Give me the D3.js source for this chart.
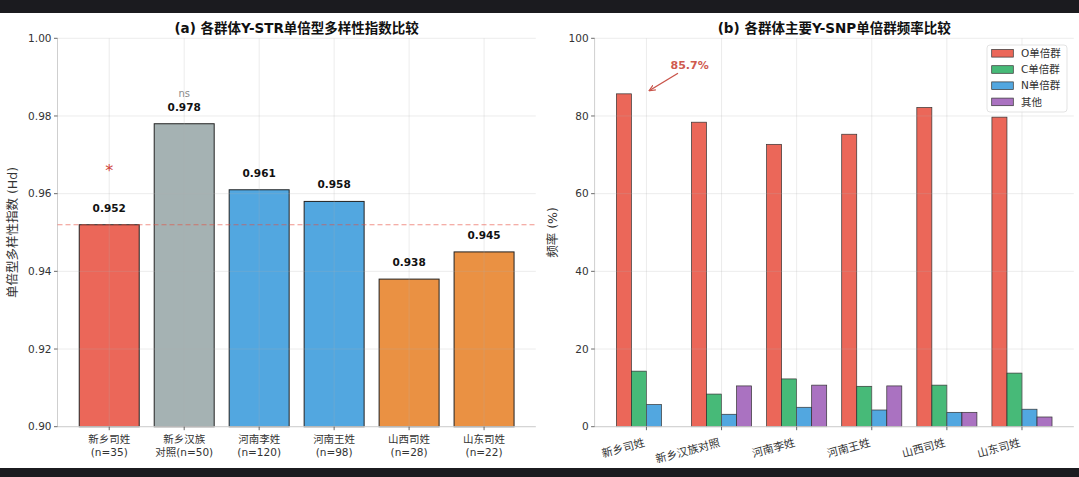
<!DOCTYPE html>
<html><head><meta charset="utf-8">
<script src="https://cdn.jsdelivr.net/npm/d3@7"></script>
<style>
html,body{margin:0;padding:0;background:#fff;}
svg{display:block;font-family:"DejaVu Sans","Noto Sans CJK SC",sans-serif;}
</style></head><body>
<svg id="c" width="1079" height="477"></svg>
<script>
// ---- data ----
const groupsA = ["新乡司姓","新乡汉族","河南李姓","河南王姓","山西司姓","山东司姓"];
const groupsA2 = ["(n=35)","对照(n=50)","(n=120)","(n=98)","(n=28)","(n=22)"];
const hdValues = [0.952,0.978,0.961,0.958,0.938,0.945];
const hdColors = ["#e74c3c","#95a5a6","#3498db","#3498db","#e67e22","#e67e22"];
const hdTicks = [0.90,0.92,0.94,0.96,0.98,1.00];
const refLine = 0.952;

const groupsB = ["新乡司姓","新乡汉族对照","河南李姓","河南王姓","山西司姓","山东司姓"];
const seriesNames = ["O单倍群","C单倍群","N单倍群","其他"];
const seriesColors = ["#e74c3c","#27ae60","#3498db","#9b59b6"];
const hapO = [85.7,78.4,72.7,75.3,82.2,79.7];
const hapC = [14.3,8.4,12.3,10.4,10.7,13.8];
const hapN = [5.7,3.2,5.0,4.3,3.7,4.5];
const hapOther = [0,10.5,10.7,10.5,3.7,2.5];
const freqTicks = [0,20,40,60,80,100];

const svg = d3.select("#c");
svg.append("rect").attr("x",0).attr("y",0).attr("width",1079).attr("height",13).attr("fill","#1b1b1f");
svg.append("rect").attr("x",0).attr("y",468).attr("width",1079).attr("height",9).attr("fill","#1b1b1f");

const pTop = 38.3, pBottom = 426.7;

function gridAndAxes(g, x, y, n, yTicks, fmt, left, right){
  g.append("line").attr("x1",left).attr("x2",left).attr("y1",pTop).attr("y2",pBottom).attr("stroke","#cfcfcf").attr("stroke-width",1);
  g.append("line").attr("x1",left).attr("x2",right).attr("y1",pBottom).attr("y2",pBottom).attr("stroke","#cfcfcf").attr("stroke-width",1);
  yTicks.forEach(t=>{
    g.append("line").attr("x1",left-3.5).attr("x2",left).attr("y1",y(t)).attr("y2",y(t)).attr("stroke","#444").attr("stroke-width",0.8);
    g.append("text").attr("x",left-6).attr("y",y(t)).attr("dy","0.36em").attr("text-anchor","end")
      .attr("font-size","10.5px").attr("fill","#333").text(fmt(t));
  });
  d3.range(n).forEach(i=>{
    g.append("line").attr("x1",x(i)).attr("x2",x(i)).attr("y1",pBottom).attr("y2",pBottom+3.5).attr("stroke","#444").attr("stroke-width",0.8);
  });
}
function drawGrid(g, x, y, n, yTicks, left, right){
  yTicks.forEach(t=>{
    g.append("line").attr("x1",left).attr("x2",right).attr("y1",y(t)).attr("y2",y(t))
      .attr("stroke","#b0b0b0").attr("stroke-opacity",0.3).attr("stroke-width",0.8);
  });
  d3.range(n).forEach(i=>{
    g.append("line").attr("x1",x(i)).attr("x2",x(i)).attr("y1",pTop).attr("y2",pBottom)
      .attr("stroke","#b0b0b0").attr("stroke-opacity",0.3).attr("stroke-width",0.8);
  });
}

// ---- panel (a) ----
{
  const left = 57.5, right = 535.8;
  const x = d3.scaleLinear().domain([-0.69,5.69]).range([left,right]);
  const y = d3.scaleLinear().domain([0.90,1.00]).range([pBottom,pTop]);
  const g = svg.append("g");
  const bw = x(0.4)-x(-0.4);
  hdValues.forEach((v,i)=>{
    g.append("rect").attr("x",x(i)-bw/2).attr("y",y(v)).attr("width",bw).attr("height",y(0.90)-y(v))
      .attr("fill",hdColors[i]).attr("fill-opacity",0.85).attr("stroke","#222").attr("stroke-width",1);
  });
  drawGrid(g,x,y,6,hdTicks,left,right);
  gridAndAxes(g,x,y,6,hdTicks,d3.format(".2f"),left,right);
  g.append("line").attr("x1",left).attr("x2",right).attr("y1",y(refLine)).attr("y2",y(refLine))
    .attr("stroke","#e74c3c").attr("stroke-opacity",0.6).attr("stroke-width",1.2).attr("stroke-dasharray","5,3");
  hdValues.forEach((v,i)=>{
    g.append("text").attr("x",x(i)).attr("y",y(v+0.0034)).attr("text-anchor","middle")
      .attr("font-size","10.5px").attr("font-weight","bold").attr("fill","#111").text(v.toFixed(3));
  });
  g.append("text").attr("x",x(0)).attr("y",y(0.9645)).attr("text-anchor","middle")
    .attr("font-size","16px").attr("fill","#d0443a").text("*");
  g.append("text").attr("x",x(1)).attr("y",y(0.985)).attr("text-anchor","middle")
    .attr("font-size","10px").attr("fill","#8a8a8a").text("ns");
  groupsA.forEach((s,i)=>{
    const t = g.append("text").attr("text-anchor","middle").attr("font-size","10.5px").attr("fill","#333");
    t.append("tspan").attr("x",x(i)).attr("y",443).text(s);
    t.append("tspan").attr("x",x(i)).attr("y",456).text(groupsA2[i]);
  });
  g.append("text").attr("x",(left+right)/2).attr("y",33).attr("text-anchor","middle")
    .attr("font-size","13.5px").attr("font-weight","bold").attr("fill","#111").text("(a) 各群体Y-STR单倍型多样性指数比较");
  g.append("text").attr("transform",`translate(17,${(pTop+pBottom)/2}) rotate(-90)`).attr("text-anchor","middle")
    .attr("font-size","12.5px").attr("fill","#333").text("单倍型多样性指数 (Hd)");
}

// ---- panel (b) ----
{
  const left = 594.6, right = 1073.8;
  const x = d3.scaleLinear().domain([-0.69,5.69]).range([left,right]);
  const y = d3.scaleLinear().domain([0,100]).range([pBottom,pTop]);
  const g = svg.append("g");
  const series = [hapO,hapC,hapN,hapOther];
  const w = 0.2;
  series.forEach((vals,k)=>{
    vals.forEach((v,i)=>{
      const c = i + (k-1.5)*w;
      g.append("rect").attr("x",x(c-w/2)).attr("y",y(v)).attr("width",x(w)-x(0)).attr("height",y(0)-y(v))
        .attr("fill",seriesColors[k]).attr("fill-opacity",0.85).attr("stroke","#333").attr("stroke-width",0.7);
    });
  });
  drawGrid(g,x,y,6,freqTicks,left,right);
  gridAndAxes(g,x,y,6,freqTicks,d3.format("d"),left,right);
  groupsB.forEach((s,i)=>{
    g.append("text").attr("transform",`translate(${x(i)-1},446) rotate(-15)`).attr("text-anchor","end")
      .attr("font-size","11px").attr("fill","#333").text(s);
  });
  const defs = svg.append("defs");
  defs.append("marker").attr("id","ah").attr("viewBox","0 0 10 10").attr("refX",9).attr("refY",5)
    .attr("markerWidth",7).attr("markerHeight",7).attr("orient","auto").attr("markerUnits","userSpaceOnUse")
    .append("path").attr("d","M0,1 L9,5 L0,9").attr("fill","none").attr("stroke","#c9544a").attr("stroke-width",1.6);
  const ax = [0.42,0.035], ay = [91.0,86.5];
  g.append("line").attr("x1",x(ax[0])).attr("y1",y(ay[0])).attr("x2",x(ax[1])).attr("y2",y(ay[1]))
    .attr("stroke","#c9544a").attr("stroke-width",1.4).attr("marker-end","url(#ah)");
  g.append("text").attr("x",x(0.575)).attr("y",y(93.1)).attr("dy","0.36em").attr("text-anchor","middle")
    .attr("font-size","11px").attr("font-weight","bold").attr("fill","#cf5a4e").text("85.7%");
  const lg = g.append("g");
  lg.append("rect").attr("x",987).attr("y",45).attr("width",80).attr("height",67).attr("rx",3)
    .attr("fill","#fff").attr("fill-opacity",0.8).attr("stroke","#dcdcdc").attr("stroke-width",0.8);
  seriesNames.forEach((s,k)=>{
    const cy = 53.3 + k*16.2;
    lg.append("rect").attr("x",991.7).attr("y",cy-3.8).attr("width",21.6).attr("height",7.6)
      .attr("fill",seriesColors[k]).attr("fill-opacity",0.85).attr("stroke","#333").attr("stroke-width",0.7);
    lg.append("text").attr("x",1021).attr("y",cy).attr("dy","0.36em").attr("font-size","10.5px").attr("fill","#333").text(s);
  });
  g.append("text").attr("x",(left+right)/2).attr("y",33).attr("text-anchor","middle")
    .attr("font-size","13.5px").attr("font-weight","bold").attr("fill","#111").text("(b) 各群体主要Y-SNP单倍群频率比较");
  g.append("text").attr("transform",`translate(557,${(pTop+pBottom)/2}) rotate(-90)`).attr("text-anchor","middle")
    .attr("font-size","12.5px").attr("fill","#333").text("频率 (%)");
}
</script></body></html>
